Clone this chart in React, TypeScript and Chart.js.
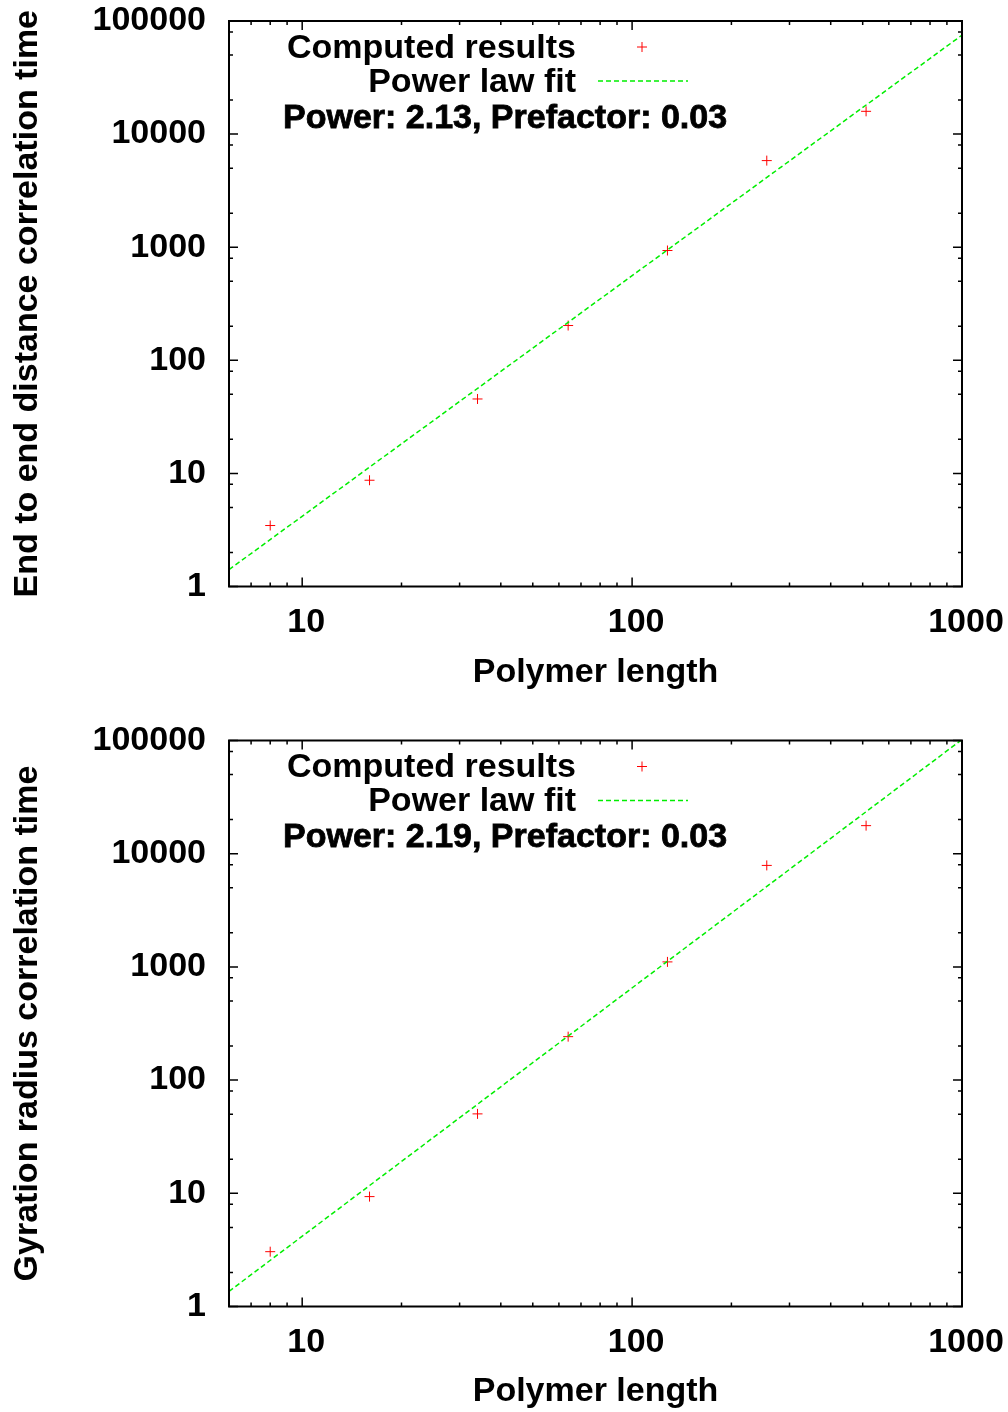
import React, { useEffect, useRef } from 'react';
import { Chart, registerables } from 'chart.js';

Chart.register(...registerables);

// ---- Data ----
const polymerLength = [8, 16, 34, 64, 128, 256, 512];
const endToEndTime = [3.46, 8.7, 45.5, 203, 935, 5830, 15900];
const gyrationTime = [3.05, 9.35, 50.3, 242, 1107, 7880, 17700];

const fitLengthEnds = [6, 1000];
const endToEndFitEnds = [1.41, 75000];
const gyrationFitEnds = [1.36, 102000];

const xTickValues = [10, 100, 1000];
const xTickLabels = ['10', '100', '1000'];
const yTickValues = [1, 10, 100, 1000, 10000, 100000];
const yTickLabels = ['1', '10', '100', '1000', '10000', '100000'];
const xMinorSteps = [2, 3, 4, 5, 6, 7, 8, 9];
const yMinorSteps = [2, 5, 8];

const xTitle = 'Polymer length';
const yTitles = ['End to end distance correlation time', 'Gyration radius correlation time'];
const legendLabels = ['Computed results', 'Power law fit'];
const fitTexts = ['Power: 2.13, Prefactor: 0.03', 'Power: 2.19, Prefactor: 0.03'];

const X_MIN = 6;
const X_MAX = 1000;
const Y_MIN = 1;
const Y_MAX = 100000;

const FONT = '"Liberation Sans", Arial, Helvetica, sans-serif';
const FONT_SIZE = 34;
const RED = '#ff0000';
const GREEN = '#00ee00';

const gnuplotFrame = {
  id: 'gnuplotFrame',
  afterDatasetsDraw(chart: any, _args: any, opts: any) {
    const { ctx, chartArea: a, scales } = chart;
    const xs = scales.x;
    const ys = scales.y;
    ctx.save();
    ctx.strokeStyle = '#000';
    ctx.lineWidth = 1.5;
    const major = 9;
    const minor = 4;
    const drawX = (v: number, len: number) => {
      const p = xs.getPixelForValue(v);
      ctx.beginPath();
      ctx.moveTo(p, a.bottom);
      ctx.lineTo(p, a.bottom - len);
      ctx.moveTo(p, a.top);
      ctx.lineTo(p, a.top + len);
      ctx.stroke();
    };
    const drawY = (v: number, len: number) => {
      const p = ys.getPixelForValue(v);
      ctx.beginPath();
      ctx.moveTo(a.left, p);
      ctx.lineTo(a.left + len, p);
      ctx.moveTo(a.right, p);
      ctx.lineTo(a.right - len, p);
      ctx.stroke();
    };
    for (let d = 1; d <= X_MAX; d *= 10) {
      if (d >= X_MIN) drawX(d, major);
      xMinorSteps.forEach((m) => {
        const v = d * m;
        if (v > X_MIN && v < X_MAX) drawX(v, minor);
      });
    }
    for (let d = 1; d <= Y_MAX; d *= 10) {
      drawY(d, major);
      yMinorSteps.forEach((m) => {
        const v = d * m;
        if (v > Y_MIN && v < Y_MAX) drawY(v, minor);
      });
    }
    ctx.lineWidth = 2;
    ctx.strokeRect(a.left, a.top, a.right - a.left, a.bottom - a.top);

    // Legend (gnuplot style)
    ctx.font = `bold ${FONT_SIZE}px ${FONT}`;
    ctx.fillStyle = '#000';
    ctx.textBaseline = 'middle';
    ctx.textAlign = 'right';
    ctx.fillText(legendLabels[0], a.left + 347, a.top + 27.5);
    ctx.fillText(legendLabels[1], a.left + 347, a.top + 61.5);
    // cross marker
    ctx.strokeStyle = RED;
    ctx.lineWidth = 1;
    const mx = a.left + 413;
    const my = a.top + 26;
    ctx.beginPath();
    ctx.moveTo(mx - 5, my);
    ctx.lineTo(mx + 5, my);
    ctx.moveTo(mx, my - 5);
    ctx.lineTo(mx, my + 5);
    ctx.stroke();
    // dashed sample
    ctx.strokeStyle = GREEN;
    ctx.lineWidth = 1.5;
    ctx.setLineDash([5, 3]);
    ctx.beginPath();
    ctx.moveTo(a.left + 369, a.top + 60);
    ctx.lineTo(a.left + 459, a.top + 60);
    ctx.stroke();
    ctx.setLineDash([]);
    // fit text
    ctx.textAlign = 'left';
    ctx.fillStyle = '#000';
    ctx.strokeStyle = '#000';
    ctx.lineWidth = 0.8;
    ctx.fillText(opts.fitText, a.left + 54, a.top + 97.5);
    ctx.strokeText(opts.fitText, a.left + 54, a.top + 97.5);
    ctx.restore();
  },
};

function Panel(props: { index: number; values: number[]; fit: number[]; topPad: number; xHeight: number; titleBottomPad: number }) {
  const ref = useRef<HTMLCanvasElement | null>(null);
  useEffect(() => {
    const canvas = ref.current;
    if (!canvas) return;
    const tickFont = { family: FONT, size: FONT_SIZE, weight: 'bold' as const, lineHeight: 1.2 };
    const chart = new Chart(canvas, {
      type: 'scatter',
      data: {
        datasets: [
          {
            label: legendLabels[1],
            data: fitLengthEnds.map((x, i) => ({ x, y: props.fit[i] })),
            showLine: true,
            borderColor: GREEN,
            backgroundColor: GREEN,
            borderWidth: 1.5,
            borderDash: [5, 3],
            pointRadius: 0,
            pointHoverRadius: 0,
          },
          {
            label: legendLabels[0],
            data: polymerLength.map((x, i) => ({ x, y: props.values[i] })),
            showLine: false,
            pointStyle: 'cross',
            pointRadius: 5,
            pointHoverRadius: 5,
            pointBorderWidth: 1,
            borderColor: RED,
            backgroundColor: RED,
          },
        ],
      },
      options: {
        responsive: false,
        animation: false,
        events: [],
        layout: { padding: { left: 0, right: 46, top: props.topPad, bottom: 0 } },
        plugins: {
          legend: { display: false },
          tooltip: { enabled: false },
          gnuplotFrame: { fitText: fitTexts[props.index] },
        } as any,
        scales: {
          x: {
            type: 'logarithmic',
            position: 'bottom',
            min: X_MIN,
            max: X_MAX,
            grid: { display: false, drawTicks: false },
            border: { display: false },
            afterBuildTicks: (s: any) => {
              s.ticks = xTickValues.map((v) => ({ value: v }));
            },
            afterFit: (s: any) => {
              s.height = props.xHeight;
              s.paddingLeft = 0;
              s.paddingRight = 0;
            },
            ticks: {
              autoSkip: false,
              maxRotation: 0,
              minRotation: 0,
              padding: 16,
              labelOffset: 4,
              color: '#000',
              font: tickFont,
              callback: (_v: any, i: number) => xTickLabels[i],
            },
            title: {
              display: true,
              text: xTitle,
              color: '#000',
              font: tickFont,
              padding: { top: 0, bottom: props.titleBottomPad },
            },
          },
          y: {
            type: 'logarithmic',
            position: 'left',
            min: Y_MIN,
            max: Y_MAX,
            grid: { display: false, drawTicks: false },
            border: { display: false },
            afterBuildTicks: (s: any) => {
              s.ticks = yTickValues.map((v) => ({ value: v }));
            },
            afterFit: (s: any) => {
              s.width = 229;
              s.paddingTop = 0;
              s.paddingBottom = 0;
            },
            ticks: {
              autoSkip: false,
              padding: 23,
              color: '#000',
              font: tickFont,
              callback: (_v: any, i: number) => yTickLabels[i],
            },
            title: {
              display: true,
              text: yTitles[props.index],
              color: '#000',
              font: tickFont,
              padding: { top: 7, bottom: 0 },
            },
          },
        },
      } as any,
      plugins: [gnuplotFrame],
    });
    return () => chart.destroy();
  }, []);
  return <canvas ref={ref} width={1008} height={706} style={{ display: 'block' }} />;
}

export default function App() {
  return (
    <div style={{ position: 'absolute', left: 0, top: 0, width: 1008, height: 1412, background: '#fff' }}>
      <Panel index={0} values={endToEndTime} fit={endToEndFitEnds} topPad={21} xHeight={119.5} titleBottomPad={12.5} />
      <Panel index={1} values={gyrationTime} fit={gyrationFitEnds} topPad={34.5} xHeight={105.5} titleBottomPad={0} />
    </div>
  );
}
